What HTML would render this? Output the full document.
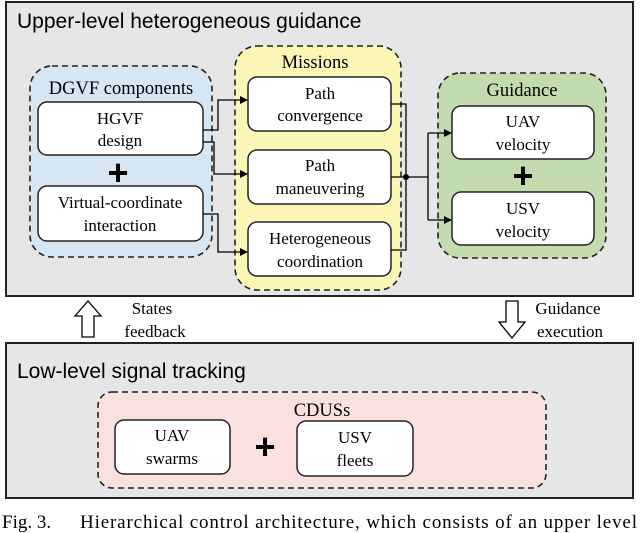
<!DOCTYPE html>
<html><head><style>
body{margin:0;width:640px;height:533px;background:#fff;overflow:hidden}
svg{display:block}
.s{font-family:"Liberation Serif",serif;font-size:17px;fill:#000;text-anchor:middle}
.t{font-family:"Liberation Sans",sans-serif;font-size:21px;fill:#000}
.p{font-family:"Liberation Sans",sans-serif;font-weight:900;font-size:36px;text-anchor:middle}
.c{font-family:"Liberation Serif",serif;font-size:19px}
</style></head><body>
<svg width="640" height="533" viewBox="0 0 640 533" xmlns="http://www.w3.org/2000/svg">
<defs><marker id="a" markerWidth="8" markerHeight="8" refX="7" refY="4" orient="auto" markerUnits="userSpaceOnUse"><path d="M0,0L8,4L0,8z" fill="#000"/></marker></defs>
<rect x="6" y="2" width="627" height="294" fill="#e6e6e6" stroke="#222" stroke-width="2"/>
<text class="t" x="17" y="28">Upper-level heterogeneous guidance</text>
<rect x="30" y="66" width="182" height="191" rx="22" fill="#d6e6f2" stroke="#222" stroke-width="1.6" stroke-dasharray="6,4"/>
<text class="s" x="121" y="94" style="font-size:18.5px">DGVF components</text>
<rect x="38" y="102" width="165" height="53" rx="9" fill="#fff" stroke="#222" stroke-width="1.5"/>
<text class="s" x="120" y="124">HGVF</text><text class="s" x="120" y="146">design</text>
<text class="p" x="118" y="185">+</text>
<rect x="38" y="186" width="165" height="55" rx="9" fill="#fff" stroke="#222" stroke-width="1.5"/>
<text class="s" x="120" y="208">Virtual-coordinate</text><text class="s" x="120" y="231">interaction</text>
<rect x="235" y="46" width="166" height="244" rx="22" fill="#fbf6b6" stroke="#222" stroke-width="1.6" stroke-dasharray="6,4"/>
<text class="s" x="315" y="68" style="font-size:18.5px">Missions</text>
<rect x="248" y="77" width="143" height="54" rx="9" fill="#fff" stroke="#222" stroke-width="1.5"/>
<text class="s" x="320" y="99">Path</text><text class="s" x="320" y="121">convergence</text>
<rect x="248" y="150" width="143" height="54" rx="9" fill="#fff" stroke="#222" stroke-width="1.5"/>
<text class="s" x="320" y="171">Path</text><text class="s" x="320" y="194">maneuvering</text>
<rect x="248" y="222" width="143" height="54" rx="9" fill="#fff" stroke="#222" stroke-width="1.5"/>
<text class="s" x="320" y="244">Heterogeneous</text><text class="s" x="320" y="267">coordination</text>
<rect x="438" y="73" width="168" height="185" rx="22" fill="#c2dcb0" stroke="#222" stroke-width="1.6" stroke-dasharray="6,4"/>
<text class="s" x="522" y="96" style="font-size:18.5px">Guidance</text>
<rect x="452" y="106" width="142" height="53" rx="9" fill="#fff" stroke="#222" stroke-width="1.5"/>
<text class="s" x="523" y="127">UAV</text><text class="s" x="523" y="150">velocity</text>
<text class="p" x="523" y="188">+</text>
<rect x="452" y="192" width="142" height="53" rx="9" fill="#fff" stroke="#222" stroke-width="1.5"/>
<text class="s" x="523" y="214">USV</text><text class="s" x="523" y="237">velocity</text>
<g fill="none" stroke="#000" stroke-width="1.3">
<path d="M203,130H218V100H247" marker-end="url(#a)"/>
<path d="M203,142H214V174H247" marker-end="url(#a)"/>
<path d="M203,214H218V252H247" marker-end="url(#a)"/>
<path d="M391,104H406V250H391"/>
<path d="M391,177H428"/>
<path d="M428,133V220"/>
<path d="M428,133H451" marker-end="url(#a)"/>
<path d="M428,220H451" marker-end="url(#a)"/>
</g>
<circle cx="406" cy="177" r="3" fill="#000"/>
<path d="M82,337V316H75L88,301L101,316H94V337Z" fill="#fff" stroke="#000" stroke-width="1.3"/>
<text class="s" x="152" y="314">States</text>
<text class="s" x="155" y="337">feedback</text>
<path d="M506,301V322H499L512,338L525,322H518V301Z" fill="#fff" stroke="#000" stroke-width="1.3"/>
<text class="s" x="568" y="314">Guidance</text>
<text class="s" x="570" y="337">execution</text>
<rect x="6" y="343" width="627" height="155" fill="#e6e6e6" stroke="#222" stroke-width="2"/>
<text class="t" x="17" y="378">Low-level signal tracking</text>
<rect x="98" y="392" width="448" height="96" rx="14" fill="#fbe0e0" stroke="#222" stroke-width="1.6" stroke-dasharray="6,4"/>
<text class="s" x="322" y="416" style="font-size:18.5px">CDUSs</text>
<rect x="115" y="420" width="115" height="54" rx="9" fill="#fff" stroke="#222" stroke-width="1.5"/>
<text class="s" x="172" y="441">UAV</text><text class="s" x="172" y="464">swarms</text>
<text class="p" x="265" y="459">+</text>
<rect x="297" y="421" width="116" height="55" rx="9" fill="#fff" stroke="#222" stroke-width="1.5"/>
<text class="s" x="355" y="443">USV</text><text class="s" x="355" y="466">fleets</text>
<text class="c" x="2" y="528">Fig. 3.</text>
<text class="c" x="80" y="528" textLength="557" lengthAdjust="spacing">Hierarchical control architecture, which consists of an upper level</text>
</svg>
</body></html>
